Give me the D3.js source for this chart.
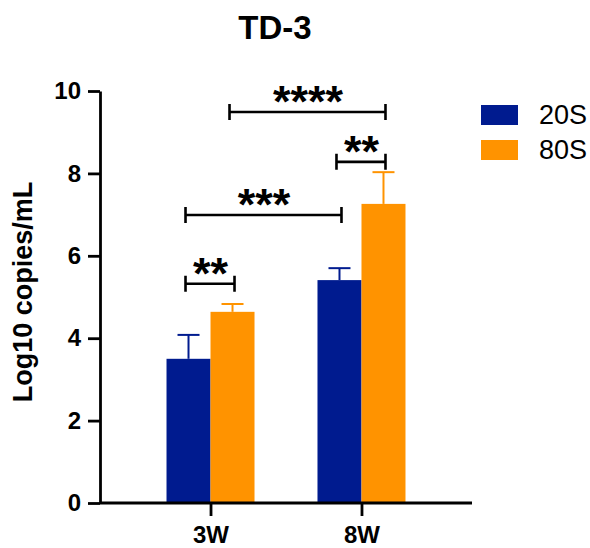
<!DOCTYPE html>
<html>
<head>
<meta charset="utf-8">
<script src="https://cdn.jsdelivr.net/npm/d3@7"></script>
<style>
  body { margin: 0; background: #fff; }
  svg text { font-family: Arial, "Liberation Sans", sans-serif; }
</style>
</head>
<body>
<div id="chart"></div>
<script>
const groups = ['3W', '8W'];
const series = ['20S', '80S'];
const mean20S = [3.50, 5.41];
const err20S = [0.58, 0.29];
const mean80S = [4.64, 7.26];
const err80S = [0.19, 0.77];
const yTicks = [0, 2, 4, 6, 8, 10];
const colors = ['#001b8f', '#ff9300'];

// significance brackets: [group, series] start / end, level, label
const bracketFrom = [['3W', '20S'], ['3W', '20S'], ['8W', '20S'], ['3W', '80S']];
const bracketTo = [['3W', '80S'], ['8W', '20S'], ['8W', '80S'], ['8W', '80S']];
const bracketLevel = [5.32, 6.99, 8.28, 9.49];
const bracketLabel = ['**', '***', '**', '****'];

const width = 590, height = 548;
const svg = d3.select('#chart').append('svg')
  .attr('width', width)
  .attr('height', height);

const x = d3.scalePoint().domain(groups).range([100, 472]).padding(0.732);
const xs = d3.scaleBand().domain(series).range([-44, 44]);
const y = d3.scaleLinear().domain([0, 10]).range([503, 91]);

const rows = [];
groups.forEach((g, i) => {
  rows.push({ g, s: '20S', v: mean20S[i], e: err20S[i], c: colors[0] });
  rows.push({ g, s: '80S', v: mean80S[i], e: err80S[i], c: colors[1] });
});

// bars
svg.append('g').selectAll('rect').data(rows).join('rect')
  .attr('x', d => x(d.g) + xs(d.s))
  .attr('y', d => y(d.v))
  .attr('width', xs.bandwidth())
  .attr('height', d => y(0) - y(d.v))
  .attr('fill', d => d.c);

// error bars (upper only)
const eb = svg.append('g').selectAll('g').data(rows).join('g')
  .attr('stroke', d => d.c)
  .attr('stroke-width', 2);
eb.append('line')
  .attr('x1', d => x(d.g) + xs(d.s) + xs.bandwidth() / 2)
  .attr('x2', d => x(d.g) + xs(d.s) + xs.bandwidth() / 2)
  .attr('y1', d => y(d.v))
  .attr('y2', d => y(d.v + d.e));
eb.append('line')
  .attr('x1', d => x(d.g) + xs(d.s) + xs.bandwidth() / 2 - 11)
  .attr('x2', d => x(d.g) + xs(d.s) + xs.bandwidth() / 2 + 11)
  .attr('y1', d => y(d.v + d.e))
  .attr('y2', d => y(d.v + d.e));

// axes
const yAxis = svg.append('g')
  .attr('transform', 'translate(100,0)')
  .call(d3.axisLeft(y).tickValues(yTicks).tickSize(12).tickPadding(7).tickSizeOuter(0));
const xAxis = svg.append('g')
  .attr('transform', 'translate(0,503)')
  .call(d3.axisBottom(x).tickSize(13).tickPadding(10).tickSizeOuter(0));
[yAxis, xAxis].forEach(a => {
  a.selectAll('path, line').attr('stroke', '#000').attr('stroke-width', 2.8);
  a.selectAll('text')
    .attr('fill', '#000')
    .style('font-size', '24px')
    .style('font-weight', 'bold');
});
xAxis.select('.domain').attr('d', 'M100,0H472');

// axis title
svg.append('text')
  .attr('transform', 'translate(32,292) rotate(-90)')
  .attr('text-anchor', 'middle')
  .style('font-size', '27px')
  .style('font-weight', 'bold')
  .text('Log10 copies/mL');

// chart title
svg.append('text')
  .attr('x', 275)
  .attr('y', 39)
  .attr('text-anchor', 'middle')
  .style('font-size', '33px')
  .style('font-weight', 'bold')
  .text('TD-3');

// significance brackets
const cx = p => x(p[0]) + xs(p[1]) + xs.bandwidth() / 2;
const br = svg.append('g').selectAll('g').data(bracketLabel).join('g');
br.append('path')
  .attr('d', (d, i) => {
    const x1 = cx(bracketFrom[i]) - 3, x2 = cx(bracketTo[i]) + 2, yy = y(bracketLevel[i]);
    return `M${x1},${yy - 8}V${yy + 8}M${x1},${yy}H${x2}M${x2},${yy - 8}V${yy + 8}`;
  })
  .attr('fill', 'none')
  .attr('stroke', '#000')
  .attr('stroke-width', 2.6);
br.append('text')
  .attr('x', (d, i) => (cx(bracketFrom[i]) + cx(bracketTo[i])) / 2)
  .attr('y', (d, i) => y(bracketLevel[i]) + 5)
  .attr('text-anchor', 'middle')
  .style('font-size', '45px')
  .style('font-weight', 'bold')
  .text(d => d);

// legend
const lg = svg.append('g').selectAll('g').data(series).join('g')
  .attr('transform', (d, i) => `translate(481,${105 + i * 35})`);
lg.append('rect')
  .attr('width', 37)
  .attr('height', 20)
  .attr('fill', (d, i) => colors[i]);
lg.append('text')
  .attr('x', 58)
  .attr('y', 19)
  .style('font-size', '27px')
  .text(d => d);
</script>
</body>
</html>
